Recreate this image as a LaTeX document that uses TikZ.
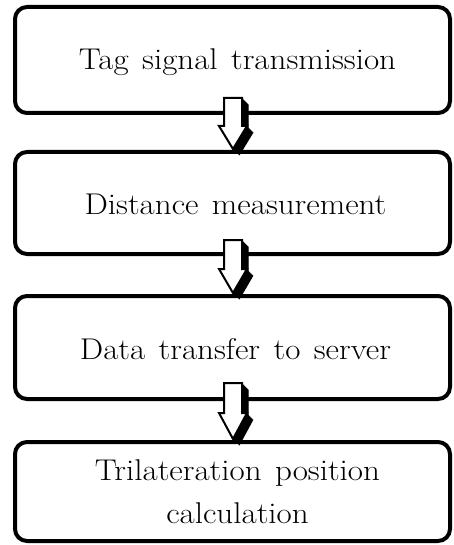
\documentclass[tikz,border=0pt]{standalone}
\usepackage{fontspec}
\newfontfamily\boxfont{lmroman17-regular.otf}[FakeStretch=1.1,WordSpace=1.35]
\begin{document}
\begin{tikzpicture}[x=1pt,y=-1pt,
  stepbox/.style={draw=black, line width=4pt, rounded corners=12pt},
  boxtext/.style={font=\boxfont\fontsize{30}{43}\selectfont, align=center, inner sep=0pt}]
\useasboundingbox (0,0) rectangle (454,545);
% boxes
\draw[stepbox] (15,7) rectangle (450,113);
\draw[stepbox] (15,152) rectangle (450,254);
\draw[stepbox] (15,296) rectangle (450,399);
\draw[stepbox] (15,442) rectangle (450,541);
\coordinate (b1) at (237.5,62);
\coordinate (b2) at (235.5,204);
\coordinate (b3) at (235.5,349);
\coordinate (b4) at (237.5,492);
\node[boxtext] (t1) at (b1) {Tag signal transmission};
\node[boxtext] (t2) at (b2) {Distance measurement};
\node[boxtext] (t3) at (b3) {Data transfer to server};
\node[boxtext] (t4) at (b4) {Trilateration position\\calculation};
% arrows
\newcommand{\blockarrow}[3]{% top y, head y, tip y
  \foreach \s in {0.5,1,...,6.5}{
    \fill[black] (224+\s,#1+\s) -- (242+\s,#1+\s) -- (242+\s,#2+\s) -- (247+\s,#2+\s) -- (233+\s,#3+\s) -- (219+\s,#2+\s) -- (224+\s,#2+\s) -- cycle;
  }
  \draw[fill=white, line width=2pt, line join=miter] (224,#1) -- (242,#1) -- (242,#2) -- (247,#2) -- (233,#3) -- (219,#2) -- (224,#2) -- cycle;
}
\blockarrow{98}{126}{149}
\blockarrow{240}{269}{293}
\blockarrow{383}{413}{439}
\end{tikzpicture}
\end{document}
